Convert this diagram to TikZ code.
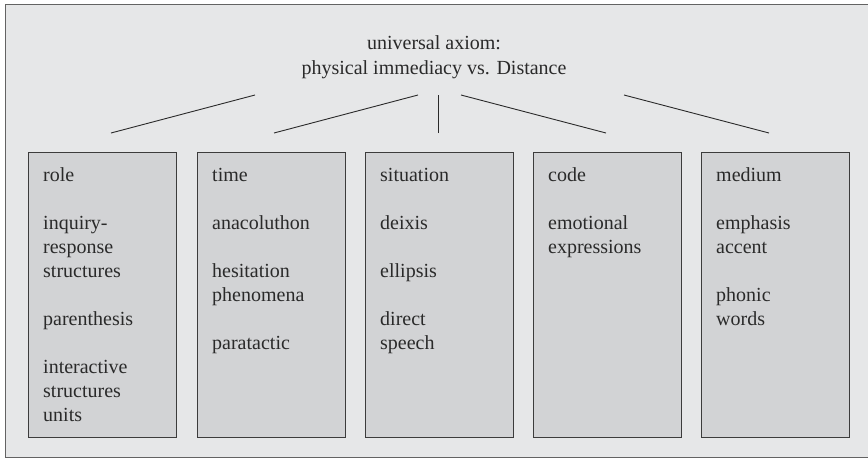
\documentclass[tikz,border=0pt]{standalone}
\usepackage{fontspec}
\setmainfont{Liberation Serif}
\definecolor{bgc}{HTML}{E6E7E8}
\definecolor{boxc}{HTML}{D2D3D5}
\definecolor{edgec}{HTML}{3C3C3C}
\definecolor{txtc}{HTML}{2A2A2A}
\tikzset{
  catbox/.style={draw=edgec, fill=boxc, line width=0.9pt, minimum width=148pt, minimum height=285pt, inner sep=0pt, anchor=north west},
  txt/.style={text=txtc, font=\fontsize{20}{24}\selectfont, inner sep=0pt, anchor=base west},
  link/.style={draw=txtc, line width=0.9pt}
}
\begin{document}
\begin{tikzpicture}[x=1pt, y=-1pt]
\useasboundingbox (0,0) rectangle (868,459);
\fill[bgc] (5,4) rectangle (872,457);
\draw[edgec!80, line width=1pt] (872,4) -- (5,4) -- (5,457) -- (872,457);
% title
\node[txt, anchor=base] (axiom1) at (434,49) {universal axiom:};
\node[txt, anchor=base] (axiom2) at (434,74) {physical immediacy vs. Distance};
% boxes
\node[catbox] (role) at (28,152) {};
\node[catbox] (time) at (197,152) {};
\node[catbox] (situation) at (365,152) {};
\node[catbox] (code) at (533,152) {};
\node[catbox] (medium) at (701,152) {};
% texts
\foreach \b/\list in {
  role/{role/0,inquiry-/2,response/3,structures/4,parenthesis/6,interactive/8,structures/9,units/10},
  time/{time/0,anacoluthon/2,hesitation/4,phenomena/5,paratactic/7},
  situation/{situation/0,deixis/2,ellipsis/4,direct/6,speech/7},
  code/{code/0,emotional/2,expressions/3},
  medium/{medium/0,emphasis/2,accent/3,phonic/5,words/6}} {
  \foreach \t/\k [count=\i] in \list {
    \node[txt] (\b-\i) at ([xshift=15pt, yshift=-29pt-24pt*\k]\b.north west) {\t};
  }
}
% connectors
\coordinate (a1) at (111,133); \coordinate (b1) at (255,95);
\coordinate (a2) at (274,133); \coordinate (b2) at (418,95);
\coordinate (a3) at (438,133); \coordinate (b3) at (438,95);
\coordinate (a4) at (606,133); \coordinate (b4) at (461,95);
\coordinate (a5) at (769,133); \coordinate (b5) at (624,95);
\foreach \i in {1,...,5} \draw[link] (a\i) -- (b\i);
\end{tikzpicture}
\end{document}
